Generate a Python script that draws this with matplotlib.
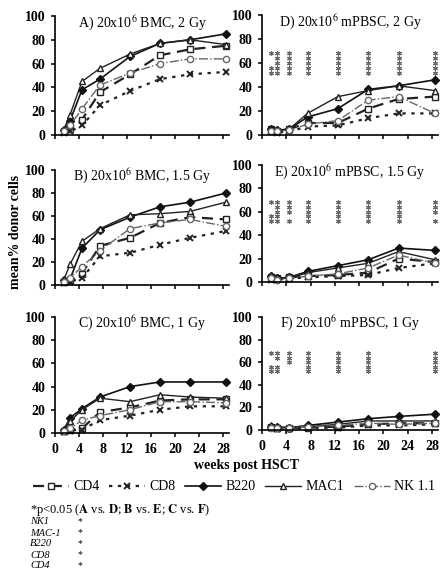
import matplotlib
matplotlib.use("Agg")
import matplotlib.pyplot as plt

plt.rcParams['font.family'] = ['Liberation Serif', 'DejaVu Serif']
plt.rcParams['mathtext.fontset'] = 'stix'

# sampling times (weeks post HSCT)
weeks = [1.5, 2.5, 4.5, 7.5, 12.5, 17.5, 22.5, 28.5]

# mean % donor cells per lineage, one list per panel
A_cd4 = [3, 5, 13, 36, 51, 67, 72, 75]
A_cd8 = [2, 3, 8, 25, 37, 47, 51, 53]
A_b220 = [4, 12, 38, 47, 66, 77, 80, 85]
A_mac1 = [5, 17, 45, 56, 68, 77, 80, 76]
A_nk = [3, 8, 22, 42, 52, 60, 64, 64]

B_cd4 = [3, 4, 10, 34, 41, 54, 59, 57]
B_cd8 = [2, 3, 6, 25, 28, 35, 41, 47]
B_b220 = [4, 5, 32, 48, 59, 68, 72, 80]
B_mac1 = [5, 18, 38, 49, 61, 62, 64, 72]
B_nk = [3, 6, 16, 30, 49, 54, 57, 51]

C_cd4 = [2, 3, 4, 18, 22, 28, 29, 29]
C_cd8 = [1, 2, 3, 11, 15, 20, 23, 23]
C_b220 = [3, 13, 21, 31, 40, 44, 44, 44]
C_mac1 = [2, 10, 20, 30, 27, 33, 31, 30]
C_nk = [2, 4, 11, 15, 20, 27, 27, 26]

D_cd4 = [5, 3, 5, 10, 10, 22, 30, 32]
D_cd8 = [3, 2, 3, 7, 8, 14, 18, 18]
D_b220 = [5, 4, 5, 15, 22, 38, 41, 46]
D_mac1 = [4, 3, 5, 18, 32, 37, 41, 37]
D_nk = [3, 3, 4, 9, 12, 29, 32, 18]

E_cd4 = [4, 3, 4, 5, 6, 8, 20, 17]
E_cd8 = [2, 2, 3, 4, 5, 6, 12, 16]
E_b220 = [5, 3, 4, 9, 14, 19, 29, 27]
E_mac1 = [6, 4, 3, 8, 12, 16, 26, 19]
E_nk = [3, 2, 3, 5, 7, 12, 23, 16]

F_cd4 = [3, 2, 2, 2, 3, 5, 6, 6]
F_cd8 = [2, 1, 1, 2, 2, 4, 4, 5]
F_b220 = [3, 3, 2, 4, 7, 10, 12, 14]
F_mac1 = [4, 2, 2, 3, 5, 8, 8, 8]
F_nk = [2, 2, 2, 3, 4, 6, 5, 6]

# significance stars per time point, rows NK1, MAC-1, B220, CD8, CD4
star_rows = [68, 64, 60, 56, 52]
D_stars = ["10011", "11111", "11111", "11111", "11111", "11111", "11111", "11111"]
E_stars = ["10011", "11111", "11101", "11111", "11111", "11111", "11111", "11101"]
F_stars = ["10011", "11011", "11100", "11111", "11111", "11111", "00000", "11111"]

titles = ["A) 20x10$^{6}$ BMC, 2 Gy", "B) 20x10$^{6}$ BMC, 1.5 Gy", "C) 20x10$^{6}$ BMC, 1 Gy",
          "D) 20x10$^{6}$ mPBSC, 2 Gy", "E) 20x10$^{6}$ mPBSC, 1.5 Gy", "F) 20x10$^{6}$ mPBSC, 1 Gy"]

series_styles = {
    'CD4': dict(color='#222222', ls=(0, (5, 3)), lw=1.6, marker='s', mfc='white', ms=4.5, mew=1.0),
    'CD8': dict(color='#222222', ls=(0, (1.5, 2.5)), lw=1.6, marker='x', ms=4.5, mew=1.4),
    'B220': dict(color='#111111', ls='-', lw=1.2, marker='D', mfc='#111111', ms=4),
    'MAC1': dict(color='#222222', ls='-', lw=1.0, marker='^', mfc='white', ms=4.5, mew=1.0),
    'NK 1.1': dict(color='#666666', ls='-.', lw=1.0, marker='o', mfc='white', ms=4.5, mew=1.0),
}

panels = [
    (A_cd4, A_cd8, A_b220, A_mac1, A_nk, None),
    (B_cd4, B_cd8, B_b220, B_mac1, B_nk, None),
    (C_cd4, C_cd8, C_b220, C_mac1, C_nk, None),
    (D_cd4, D_cd8, D_b220, D_mac1, D_nk, D_stars),
    (E_cd4, E_cd8, E_b220, E_mac1, E_nk, E_stars),
    (F_cd4, F_cd8, F_b220, F_mac1, F_nk, F_stars),
]

W, H = 446, 575
fig = plt.figure(figsize=(W / 100, H / 100), dpi=100)

# axes boxes in pixels: (left, top, right, bottom)
boxes = [(55, 16, 229, 135), (55, 170, 229, 285), (55, 317, 229, 433),
         (262, 15, 438, 135), (262, 165, 438, 282), (262, 317, 438, 430)]

handles = None
for i, (box, data) in enumerate(zip(boxes, panels)):
    l, t, r, b = box
    ax = fig.add_axes([l / W, 1 - b / H, (r - l) / W, (b - t) / H])
    lines = []
    for name, vals in zip(series_styles, data[:5]):
        ln, = ax.plot(weeks, vals, label=name, clip_on=False, **series_styles[name])
        lines.append(ln)
    handles = lines
    stars = data[5]
    if stars:
        sx, sy = [], []
        for wk, pattern in zip(weeks, stars):
            for flag, yv in zip(pattern, star_rows):
                if flag == "1":
                    sx.append(wk)
                    sy.append(yv)
        ax.plot(sx, sy, ls='none', marker=(6, 2, 0), ms=3.6, mew=0.8, color='#6a6a6a')
    ax.set_xlim(0, 29)
    ax.set_ylim(0, 100)
    ax.set_xticks(range(0, 29, 4))
    ax.set_yticks(range(0, 101, 20))
    for s in ['top', 'right']:
        ax.spines[s].set_visible(False)
    for s in ['left', 'bottom']:
        ax.spines[s].set_linewidth(1.2)
    ax.tick_params(direction='out', length=3, width=1.1, labelsize=10, pad=4)
    for lab in ax.get_yticklabels() + ax.get_xticklabels():
        lab.set_fontweight('bold')
    if i not in (2, 5):
        ax.set_xticklabels([])
    ax.text(0.5, 0.94, titles[i], transform=ax.transAxes, ha='center', va='center', fontsize=10)

fig.text(16 / W, 1 - 232 / H, 'mean% donor cells', rotation=90, ha='center', va='center',
         fontsize=10, fontweight='bold')
fig.text(246 / W, 1 - 465 / H, 'weeks post HSCT', ha='center', va='center',
         fontsize=10, fontweight='bold')

fig.legend(handles, [h.get_label() for h in handles], loc='center', ncol=5,
           bbox_to_anchor=(234 / W, 1 - 487 / H), frameon=False, fontsize=10,
           handlelength=2.6, handletextpad=0.3, columnspacing=0.7, borderpad=0)

fig.text(30 / W, 1 - 510 / H,
         r'*p<0.05 ($\mathbf{A}$ vs. $\mathbf{D}$; $\mathbf{B}$ vs. $\mathbf{E}$; $\mathbf{C}$ vs. $\mathbf{F}$)',
         ha='left', va='center', fontsize=9)
footnote_labels = ['NK1', 'MAC-1', 'B220', 'CD8', 'CD4']
for k, lab in enumerate(footnote_labels):
    y = 1 - (522 + 11 * k) / H
    fig.text(30 / W, y, lab, ha='left', va='center', fontsize=7.5, style='italic')
    fig.text(80 / W, y, '*', ha='center', va='center', fontsize=7)

fig.savefig('out.png', dpi=100)
